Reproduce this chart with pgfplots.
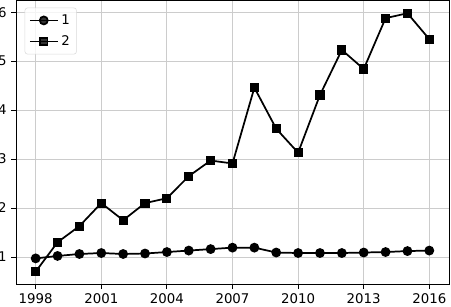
\documentclass[border=0pt]{standalone}
\usepackage{fontspec}
\setmainfont{DejaVu Sans}
\usepackage{pgfplots}
\pgfplotsset{compat=1.18}
\begin{document}
\begin{tikzpicture}[font=\fontsize{10}{12}\selectfont]
\begin{axis}[
  at={(0,0)}, anchor=south west,
  scale only axis,
  width=324.75pt, height=213pt,
  xmin=1997.1, xmax=2016.9,
  ymin=0.436, ymax=6.24,
  xtick={1998,2001,2004,2007,2010,2013,2016},
  ytick={1,2,3,4,5,6},
  /pgf/number format/assume math mode=true,
  xticklabel style={/pgf/number format/1000 sep={}},
  tick align=outside,
  major tick length=3.5pt,
  tick style={black, line width=0.6pt},
  xtick pos=bottom, ytick pos=left,
  grid=major,
  grid style={gray!40, line width=0.6pt},
  axis line style={line width=0.6pt},
  legend style={at={(0.02,0.975)}, anchor=north west, draw=gray!30, rounded corners=2pt, fill=white, fill opacity=0.8, text opacity=1, font=\fontsize{10}{12}\selectfont, row sep=3pt, inner sep=3pt},
  legend image code/.code={\draw[mark repeat=2,mark phase=2,#1] plot coordinates {(0pt,0pt) (10.5pt,0pt) (21pt,0pt)};},
  legend cell align=left,
  every axis plot/.append style={line width=1.3pt, black},
]
\addplot[mark=*, mark size=3pt] coordinates {
(1998,0.97) (1999,1.02) (2000,1.06) (2001,1.08) (2002,1.06) (2003,1.07) (2004,1.10) (2005,1.13) (2006,1.16) (2007,1.19) (2008,1.19) (2009,1.09) (2010,1.08) (2011,1.08) (2012,1.08) (2013,1.09) (2014,1.10) (2015,1.12) (2016,1.13)
};
\addlegendentry{1}
\addplot[mark=square*, mark size=2.8pt] coordinates {
(1998,0.70) (1999,1.30) (2000,1.63) (2001,2.10) (2002,1.75) (2003,2.10) (2004,2.20) (2005,2.65) (2006,2.97) (2007,2.91) (2008,4.46) (2009,3.62) (2010,3.13) (2011,4.31) (2012,5.23) (2013,4.84) (2014,5.88) (2015,5.98) (2016,5.45)
};
\addlegendentry{2}
\end{axis}
\pgfresetboundingbox
\useasboundingbox (-12pt,-16.5pt) rectangle (326.25pt,213.4pt);
\end{tikzpicture}
\end{document}
